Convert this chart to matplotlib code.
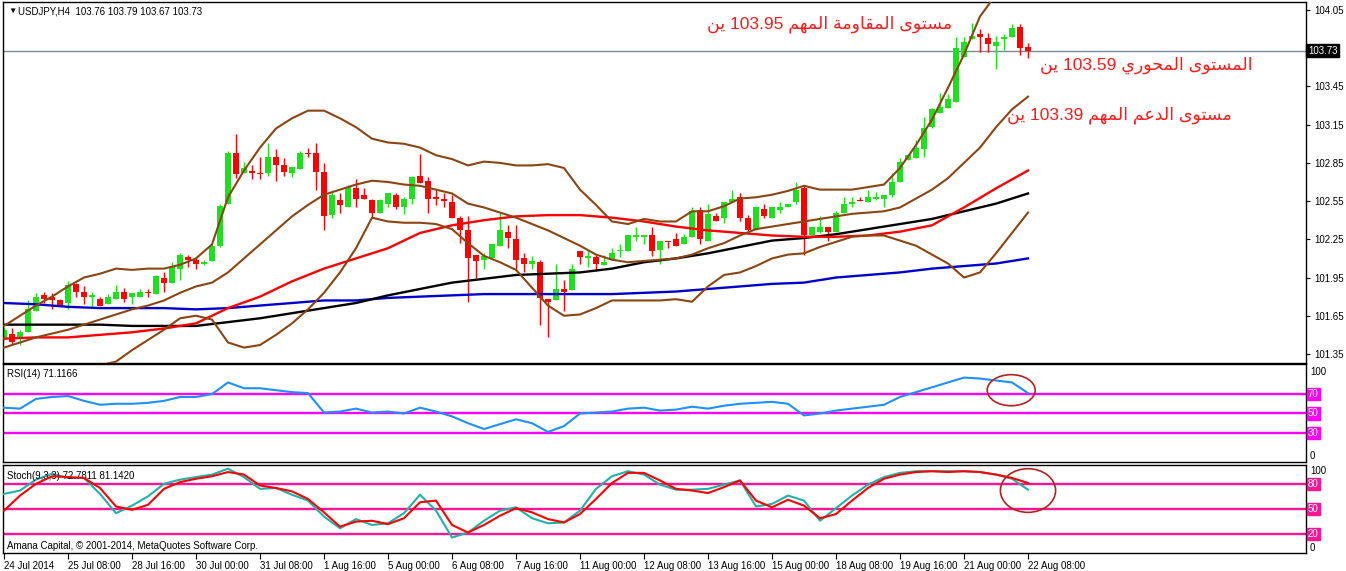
import numpy as np
import matplotlib
matplotlib.use("Agg")
import matplotlib.pyplot as plt
from matplotlib.patches import Ellipse

# ── data (USDJPY H4) ───────────────────────────────────────────────────

opens = [101.47, 101.51, 101.47, 101.52, 101.69, 101.81, 101.80, 101.77, 101.75, 101.90,
         101.84, 101.80, 101.78, 101.74, 101.78, 101.84, 101.80, 101.80, 101.84, 101.82,
         101.95, 101.91, 102.02, 102.11, 102.09, 102.06, 102.08, 102.20, 102.53, 102.93,
         102.77, 102.79, 102.77, 102.77, 102.90, 102.83, 102.77, 102.80, 102.93, 102.93,
         102.78, 102.44, 102.56, 102.50, 102.65, 102.60, 102.56, 102.46, 102.53, 102.60,
         102.50, 102.57, 102.75, 102.71, 102.58, 102.57, 102.54, 102.42, 102.32, 102.13,
         102.09, 102.10, 102.20, 102.31, 102.25, 102.10, 102.06, 102.07, 101.78, 101.77,
         101.86, 101.85, 102.16, 102.10, 102.11, 102.05, 102.09, 102.16, 102.16, 102.27,
         102.27, 102.28, 102.17, 102.24, 102.25, 102.21, 102.27, 102.48, 102.24, 102.43,
         102.42, 102.54, 102.58, 102.42, 102.32, 102.49, 102.42, 102.48, 102.50, 102.54,
         102.65, 102.28, 102.31, 102.35, 102.31, 102.46, 102.53, 102.56, 102.54, 102.57,
         102.57, 102.60, 102.70, 102.87, 102.89, 102.96, 103.13, 103.24, 103.28, 103.33,
         103.68, 103.82, 103.86, 103.83, 103.77, 103.82, 103.84, 103.92, 103.76]
highs = [101.56, 101.55, 101.54, 101.77, 101.83, 101.84, 101.83, 101.78, 101.92, 101.91,
         101.88, 101.84, 101.80, 101.82, 101.89, 101.87, 101.83, 101.86, 101.86, 101.97,
         101.99, 102.07, 102.14, 102.13, 102.11, 102.09, 102.21, 102.53, 102.94, 103.08,
         102.86, 102.83, 102.90, 103.01, 102.96, 102.89, 102.82, 102.94, 102.97, 103.01,
         102.85, 102.62, 102.61, 102.68, 102.72, 102.65, 102.57, 102.57, 102.61, 102.61,
         102.58, 102.75, 102.92, 102.74, 102.64, 102.61, 102.60, 102.43, 102.43, 102.13,
         102.14, 102.21, 102.46, 102.36, 102.36, 102.14, 102.12, 102.09, 101.78, 102.06,
         101.93, 102.06, 102.16, 102.17, 102.13, 102.13, 102.18, 102.21, 102.28, 102.35,
         102.28, 102.35, 102.24, 102.24, 102.30, 102.29, 102.50, 102.50, 102.53, 102.46,
         102.54, 102.64, 102.61, 102.44, 102.50, 102.53, 102.50, 102.54, 102.53, 102.70,
         102.67, 102.35, 102.43, 102.35, 102.47, 102.58, 102.58, 102.58, 102.64, 102.62,
         102.60, 102.77, 102.89, 102.91, 103.03, 103.21, 103.28, 103.40, 103.39, 103.84,
         103.84, 103.95, 103.90, 103.87, 103.85, 103.86, 103.94, 103.94, 103.79]
lows = [101.46, 101.43, 101.42, 101.52, 101.69, 101.75, 101.70, 101.73, 101.70, 101.80,
        101.74, 101.72, 101.73, 101.74, 101.78, 101.76, 101.74, 101.80, 101.80, 101.82,
        101.84, 101.91, 101.93, 102.03, 102.02, 102.05, 102.08, 102.19, 102.53, 102.73,
        102.77, 102.72, 102.72, 102.75, 102.71, 102.75, 102.74, 102.80, 102.90, 102.64,
        102.32, 102.42, 102.46, 102.50, 102.50, 102.57, 102.42, 102.46, 102.50, 102.49,
        102.45, 102.53, 102.69, 102.46, 102.52, 102.50, 102.42, 102.22, 101.76, 101.95,
        102.02, 102.10, 102.20, 102.18, 102.01, 101.99, 102.02, 101.58, 101.48, 101.77,
        101.69, 101.85, 102.06, 102.03, 102.00, 102.05, 102.09, 102.11, 102.16, 102.24,
        102.21, 102.12, 102.06, 102.18, 102.20, 102.21, 102.27, 102.21, 102.24, 102.39,
        102.38, 102.54, 102.39, 102.30, 102.32, 102.42, 102.42, 102.46, 102.50, 102.53,
        102.13, 102.28, 102.30, 102.24, 102.31, 102.46, 102.50, 102.55, 102.54, 102.56,
        102.50, 102.58, 102.70, 102.87, 102.89, 102.90, 103.12, 103.24, 103.28, 103.33,
        103.68, 103.82, 103.72, 103.72, 103.59, 103.74, 103.84, 103.70, 103.67]
closes = [101.54, 101.44, 101.52, 101.70, 101.80, 101.78, 101.77, 101.73, 101.89, 101.84,
          101.80, 101.81, 101.73, 101.80, 101.84, 101.78, 101.83, 101.84, 101.83, 101.96,
          101.91, 102.03, 102.13, 102.09, 102.06, 102.07, 102.20, 102.51, 102.93, 102.76,
          102.81, 102.77, 102.76, 102.90, 102.83, 102.78, 102.82, 102.93, 102.92, 102.78,
          102.43, 102.60, 102.52, 102.66, 102.57, 102.57, 102.46, 102.56, 102.61, 102.50,
          102.57, 102.74, 102.69, 102.57, 102.57, 102.55, 102.42, 102.32, 102.10, 102.08,
          102.12, 102.21, 102.32, 102.26, 102.09, 102.06, 102.08, 101.79, 101.76, 101.86,
          101.84, 102.02, 102.11, 102.12, 102.06, 102.07, 102.14, 102.17, 102.28, 102.28,
          102.28, 102.16, 102.24, 102.23, 102.20, 102.27, 102.47, 102.25, 102.45, 102.39,
          102.54, 102.57, 102.42, 102.32, 102.50, 102.43, 102.50, 102.50, 102.53, 102.64,
          102.28, 102.35, 102.35, 102.31, 102.46, 102.53, 102.54, 102.55, 102.58, 102.58,
          102.60, 102.70, 102.86, 102.91, 102.97, 103.12, 103.27, 103.29, 103.35, 103.75,
          103.80, 103.85, 103.84, 103.78, 103.80, 103.84, 103.91, 103.75, 103.73]

# bollinger bands, one value every 2 bars (bar 0, 2, ..., 128)
bb_upper = [101.57, 101.65, 101.73, 101.80, 101.88, 101.95, 101.98, 102.02, 102.01, 102.02,
            102.02, 102.05, 102.10, 102.21, 102.58, 102.79, 102.97, 103.12, 103.20, 103.26,
            103.26, 103.20, 103.13, 103.04, 103.01, 103.00, 102.97, 102.91, 102.88, 102.83,
            102.86, 102.85, 102.83, 102.83, 102.84, 102.81, 102.64, 102.52, 102.39, 102.37,
            102.41, 102.39, 102.39, 102.47, 102.47, 102.51, 102.57, 102.58, 102.60, 102.63,
            102.67, 102.64, 102.64, 102.64, 102.66, 102.68, 102.81, 102.99, 103.19, 103.44,
            103.70, 104.00, 104.17, 104.24, 104.29]
bb_middle = [101.40, 101.44, 101.48, 101.51, 101.54, 101.58, 101.62, 101.66, 101.70, 101.73,
             101.77, 101.83, 101.88, 101.91, 101.99, 102.10, 102.21, 102.32, 102.43, 102.52,
             102.60, 102.64, 102.68, 102.71, 102.70, 102.68, 102.67, 102.64, 102.61, 102.53,
             102.50, 102.46, 102.42, 102.37, 102.32, 102.26, 102.20, 102.13, 102.09, 102.07,
             102.08, 102.09, 102.10, 102.13, 102.18, 102.22, 102.28, 102.33, 102.35, 102.37,
             102.39, 102.41, 102.43, 102.45, 102.46, 102.47, 102.50, 102.57, 102.64, 102.73,
             102.85, 102.97, 103.13, 103.27, 103.37]
bb_lower = [101.22, 101.22, 101.22, 101.21, 101.19, 101.21, 101.26, 101.29, 101.38, 101.46,
            101.54, 101.63, 101.65, 101.62, 101.44, 101.40, 101.42, 101.50, 101.59, 101.70,
            101.83, 101.99, 102.18, 102.42, 102.39, 102.38, 102.38, 102.37, 102.33, 102.22,
            102.12, 102.07, 102.01, 101.87, 101.73, 101.65, 101.66, 101.71, 101.77, 101.77,
            101.77, 101.77, 101.78, 101.76, 101.88, 101.97, 101.99, 102.04, 102.10, 102.13,
            102.14, 102.19, 102.23, 102.27, 102.28, 102.28, 102.24, 102.20, 102.13, 102.06,
            101.95, 101.99, 102.14, 102.30, 102.46]

# moving averages, one value every 4 bars (bar 0, 4, ..., 128)
ma_red = [101.47, 101.48, 101.48, 101.50, 101.52, 101.55, 101.59, 101.71, 101.80, 101.92,
          102.02, 102.10, 102.18, 102.30, 102.36, 102.40, 102.43, 102.44, 102.44, 102.42,
          102.39, 102.35, 102.32, 102.30, 102.28, 102.27, 102.27, 102.28, 102.31, 102.36,
          102.50, 102.65, 102.79]
ma_black = [101.58, 101.58, 101.58, 101.58, 101.57, 101.57, 101.57, 101.60, 101.63, 101.67,
            101.71, 101.75, 101.81, 101.86, 101.91, 101.94, 101.97, 101.98, 101.99, 102.02,
            102.07, 102.10, 102.14, 102.19, 102.24, 102.26, 102.29, 102.33, 102.37, 102.41,
            102.47, 102.53, 102.61]
ma_blue = [101.75, 101.74, 101.72, 101.71, 101.71, 101.71, 101.70, 101.71, 101.73, 101.75,
           101.77, 101.77, 101.79, 101.80, 101.81, 101.82, 101.82, 101.82, 101.82, 101.82,
           101.83, 101.84, 101.86, 101.88, 101.90, 101.91, 101.95, 101.97, 101.99, 102.02,
           102.04, 102.06, 102.10]

# oscillators, one value every 2 bars (bar 0, 2, ..., 128)
rsi = [56, 55, 65, 67, 68, 63, 59, 60, 60, 61, 63, 67, 67, 70, 82, 76, 76, 74, 72, 71,
       51, 52, 55, 51, 52, 50, 56, 52, 47, 40, 34, 39, 44, 40, 31, 37, 50, 51, 52, 55,
       56, 53, 54, 57, 55, 58, 60, 61, 62, 60, 48, 50, 53, 55, 57, 59, 67, 72, 77, 82,
       87, 86, 84, 82, 71]
stoch_k = [68, 72, 85, 92, 87, 87, 68, 45, 54, 65, 80, 85, 88, 91, 98, 88, 74, 75, 67, 60,
           41, 27, 38, 31, 33, 45, 67, 48, 16, 22, 36, 48, 52, 39, 33, 34, 48, 74, 89, 95,
           91, 79, 73, 73, 74, 79, 84, 53, 56, 66, 60, 36, 51, 66, 79, 88, 93, 95, 95, 95,
           95, 94, 91, 86, 73]
stoch_d = [48, 66, 80, 89, 88, 87, 75, 53, 49, 55, 74, 82, 86, 89, 94, 91, 78, 75, 71, 62,
           46, 29, 35, 36, 32, 39, 58, 60, 31, 22, 31, 42, 51, 46, 38, 34, 44, 62, 81, 93,
           93, 84, 74, 72, 69, 76, 84, 60, 52, 61, 54, 39, 44, 60, 75, 86, 91, 94, 95, 94,
           95, 94, 91, 87, 81]

price_ticks = [104.05, 103.45, 103.15, 102.85, 102.55, 102.25, 101.95, 101.65, 101.35]
last_price = 103.73
rsi_levels = [70, 50, 30]
stoch_levels = [80, 50, 20]
time_labels = ["24 Jul 2014", "25 Jul 08:00", "28 Jul 16:00", "30 Jul 00:00", "31 Jul 08:00",
               "1 Aug 16:00", "5 Aug 00:00", "6 Aug 08:00", "7 Aug 16:00", "11 Aug 00:00",
               "12 Aug 08:00", "13 Aug 16:00", "15 Aug 00:00", "18 Aug 08:00", "19 Aug 16:00",
               "21 Aug 00:00", "22 Aug 08:00"]

notes = ["مستوى المقاومة المهم 103.95 ين",
         "المستوى المحوري 103.59 ين",
         "مستوى الدعم المهم 103.39 ين"]

# ── minimal arabic shaping (matplotlib has no bidi / joining) ─────────

AR_FORMS = {
    'ا': ('\uFE8D', '\uFE8E', None, None),
    'ة': ('\uFE93', '\uFE94', None, None),
    'ت': ('\uFE95', '\uFE96', '\uFE97', '\uFE98'),
    'ح': ('\uFEA1', '\uFEA2', '\uFEA3', '\uFEA4'),
    'د': ('\uFEA9', '\uFEAA', None, None),
    'ر': ('\uFEAD', '\uFEAE', None, None),
    'س': ('\uFEB1', '\uFEB2', '\uFEB3', '\uFEB4'),
    'ع': ('\uFEC9', '\uFECA', '\uFECB', '\uFECC'),
    'ق': ('\uFED5', '\uFED6', '\uFED7', '\uFED8'),
    'ل': ('\uFEDD', '\uFEDE', '\uFEDF', '\uFEE0'),
    'م': ('\uFEE1', '\uFEE2', '\uFEE3', '\uFEE4'),
    'ن': ('\uFEE5', '\uFEE6', '\uFEE7', '\uFEE8'),
    'ه': ('\uFEE9', '\uFEEA', '\uFEEB', '\uFEEC'),
    'و': ('\uFEED', '\uFEEE', None, None),
    'ى': ('\uFEEF', '\uFEF0', None, None),
    'ي': ('\uFEF1', '\uFEF2', '\uFEF3', '\uFEF4'),
}


def shape_word(w):
    out = []
    for k, ch in enumerate(w):
        forms = AR_FORMS.get(ch)
        if forms is None:
            out.append(ch)
            continue
        prev = w[k - 1] if k > 0 else None
        nxt = w[k + 1] if k + 1 < len(w) else None
        j_prev = prev in AR_FORMS and AR_FORMS[prev][2] is not None
        j_next = nxt in AR_FORMS and forms[2] is not None
        if j_prev and j_next:
            out.append(forms[3])
        elif j_prev:
            out.append(forms[1])
        elif j_next:
            out.append(forms[2])
        else:
            out.append(forms[0])
    return "".join(reversed(out))


def rtl(text):
    words = text.split(" ")
    vis = [shape_word(w) if any(c in AR_FORMS for c in w) else w for w in words]
    return " ".join(reversed(vis))


# ── figure ─────────────────────────────────────────────────────────────

W, H = 1346, 571
GREEN, RED = "#1ee01e", "#ff0000"
BROWN = "#8b4513"
plt.rcParams["font.family"] = ["Liberation Sans", "DejaVu Sans"]


def px_box(x0, y0, x1, y1):
    return [x0 / W, 1 - y1 / H, (x1 - x0) / W, (y1 - y0) / H]


fig = plt.figure(figsize=(W / 100, H / 100), dpi=100)
ax = fig.add_axes(px_box(3, 2, 1306, 363))
ax_rsi = fig.add_axes(px_box(3, 364, 1306, 462), sharex=ax)
ax_st = fig.add_axes(px_box(3, 465, 1306, 553), sharex=ax)

for a in (ax, ax_rsi, ax_st):
    for s in a.spines.values():
        s.set_color("black")
        s.set_linewidth(1.0)
    a.tick_params(axis="x", bottom=False, labelbottom=False)
    a.yaxis.tick_right()

# candles
o, h, l, c = (np.array(v) for v in (opens, highs, lows, closes))
idx = np.arange(len(o))
cols = np.where(c >= o, GREEN, RED)
ax.vlines(idx, l, h, colors=cols, lw=1.0, zorder=2)
ax.bar(idx, np.maximum(np.abs(c - o), 0.008), bottom=np.minimum(o, c), width=0.75,
       color=cols, linewidth=0, zorder=2)

# indicators
ma_idx = np.arange(0, len(o), 4)
bb_idx = np.arange(0, len(o), 2)
for vals, col in [(ma_blue, "#0000cd"), (ma_black, "black"), (ma_red, "#ff0000")]:
    ax.plot(ma_idx, vals, color=col, lw=1.7, zorder=3)
for vals in (bb_upper, bb_middle, bb_lower):
    ax.plot(bb_idx, vals, color=BROWN, lw=1.5, zorder=3)

ax.axhline(last_price, color="#778899", lw=1.0, zorder=1)
ax.set_xlim(-0.125, 162.75)
ax.set_ylim(101.279, 104.113)
ax.set_yticks(price_ticks)
ax.set_yticklabels([f"{v:.2f}" for v in price_ticks])
ax.tick_params(axis="y", length=3, width=0.8, pad=3, labelsize=7)
ax.text(1.0015, last_price, f"{last_price:.2f}", transform=ax.get_yaxis_transform(),
        fontsize=7, color="white", va="center", ha="left",
        bbox=dict(boxstyle="square,pad=0.15", fc="black", ec="black"))

fig.text(8 / W, 1 - 11 / H, "\u25BC", fontsize=6, va="center", ha="left")
fig.text(18 / W, 1 - 11 / H, "USDJPY,H4  103.76 103.79 103.67 103.73",
         fontsize=7, va="center", ha="left")

note_pos = [(952, 24), (1253, 65), (1232, 115)]
for txt, (xp, yp) in zip(notes, note_pos):
    fig.text(xp / W, 1 - yp / H, rtl(txt), color="#ff1a1a", fontsize=12.5,
             ha="right", va="center")

# RSI
osc_idx = np.arange(0, len(o), 2)
ax_rsi.plot(osc_idx, rsi, color="#1e90ff", lw=1.5, zorder=3)
for lv in rsi_levels:
    ax_rsi.axhline(lv, color="#ff00ff", lw=1.7, zorder=2)
    ax_rsi.text(1.0015, lv, str(lv), transform=ax_rsi.get_yaxis_transform(), fontsize=7,
                color="white", va="center", ha="left",
                bbox=dict(boxstyle="square,pad=0.12", fc="#ff00ff", ec="#ff00ff"))
ax_rsi.set_ylim(0, 101)
ax_rsi.set_yticks([])
ax_rsi.text(1.003, 93, "100", transform=ax_rsi.get_yaxis_transform(), fontsize=7, va="center")
ax_rsi.text(1.003, 6, "0", transform=ax_rsi.get_yaxis_transform(), fontsize=7, va="center")
ax_rsi.text(0.003, 0.9, "RSI(14) 71.1166", transform=ax_rsi.transAxes, fontsize=7, va="center")
ax_rsi.add_patch(Ellipse((125.9, 74), 6.0, 32, fill=False, ec="#b22222", lw=1.2, zorder=4))

# Stochastic
ax_st.plot(osc_idx, stoch_k, color="#20b2aa", lw=1.5, zorder=3)
ax_st.plot(osc_idx, stoch_d, color="#ff0000", lw=1.5, zorder=4)
for lv in stoch_levels:
    ax_st.axhline(lv, color="#ff1493", lw=1.7, zorder=2)
    ax_st.text(1.0015, lv, str(lv), transform=ax_st.get_yaxis_transform(), fontsize=7,
               color="white", va="center", ha="left",
               bbox=dict(boxstyle="square,pad=0.12", fc="#ff1493", ec="#ff1493"))
ax_st.set_ylim(-2.4, 102.4)
ax_st.set_yticks([])
ax_st.text(1.003, 95, "100", transform=ax_st.get_yaxis_transform(), fontsize=7, va="center")
ax_st.text(1.003, 4, "0", transform=ax_st.get_yaxis_transform(), fontsize=7, va="center")
ax_st.text(0.003, 0.87, "Stoch(9,3,3) 72.7811 81.1420", transform=ax_st.transAxes,
           fontsize=7, va="center")
ax_st.text(0.003, 0.08, "Amana Capital, \u00a9 2001-2014, MetaQuotes Software Corp.",
           transform=ax_st.transAxes, fontsize=7, va="center")
ax_st.add_patch(Ellipse((128.0, 72), 6.9, 52, fill=False, ec="#b22222", lw=1.2, zorder=5))

label_idx = np.arange(0, len(o), 8)
ax_st.set_xticks(label_idx)
ax_st.set_xticklabels(time_labels, ha="left")
ax_st.tick_params(axis="x", bottom=True, labelbottom=True, length=4, width=0.8,
                  pad=2, labelsize=7)

fig.savefig("out.png", dpi=100, facecolor="white")
